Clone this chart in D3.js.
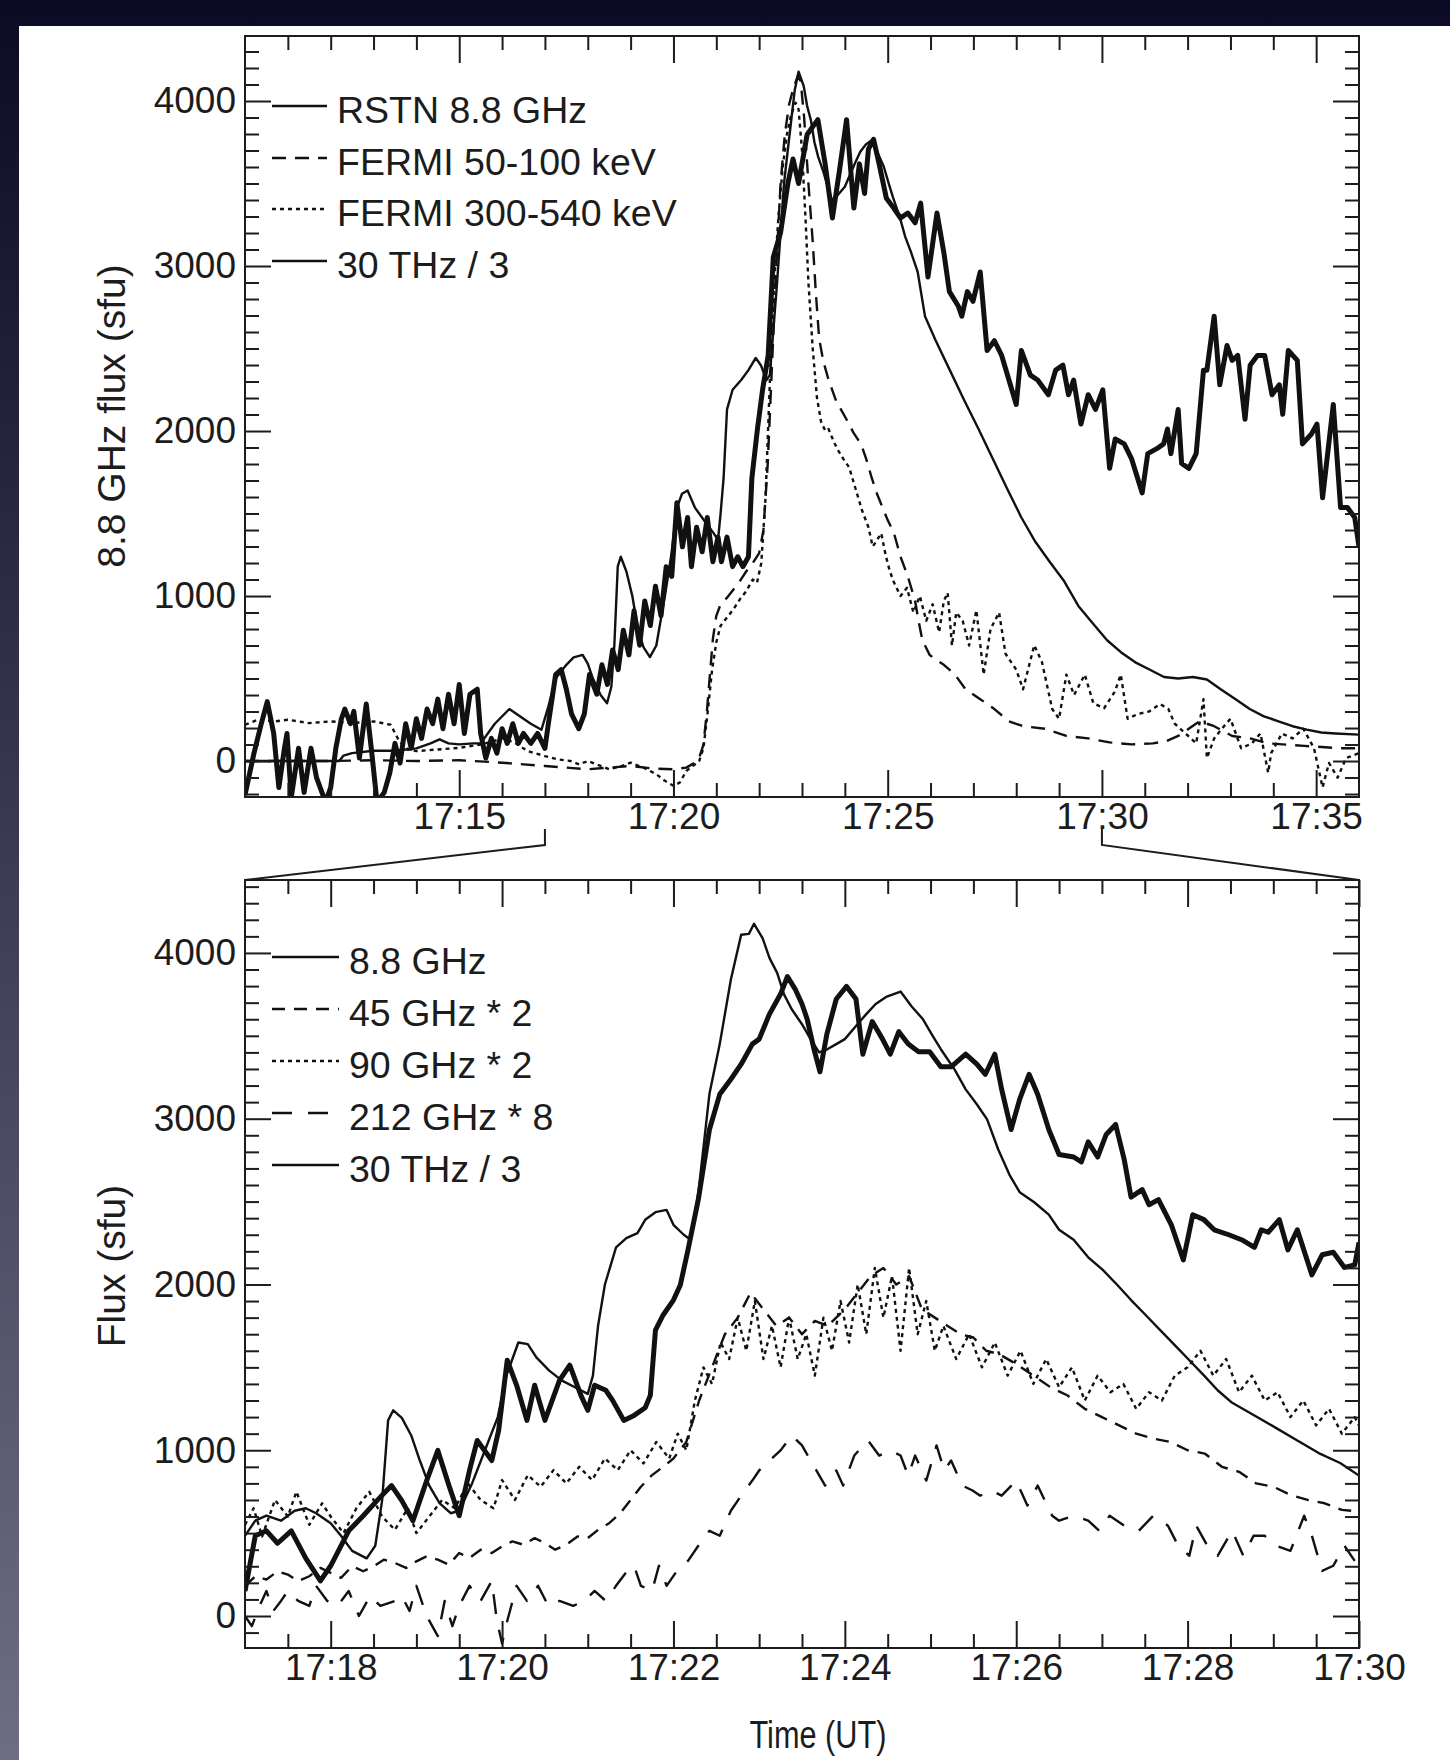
<!DOCTYPE html>
<html lang="en">
<head>
<meta charset="utf-8">
<title>Flare time profiles</title>
<script src="https://cdn.jsdelivr.net/npm/d3@7"></script>
<style>
  body { margin: 0; }
  svg text { font-family: "Liberation Sans", Arial, sans-serif; fill: #1c1c1c; }
  .axis path { display: none; }
  .axis line { stroke: #1c1c1c; stroke-width: 2px; }
  .axis text { font-size: 37px; }
  .legend text { font-size: 37.5px; }
</style>
</head>
<body>
<script>
var W = 1450, H = 1760;

// ---- data: [minutes after 17:00, flux in sfu] ----
var rstnTop = [[10.0,0],[12.2,0],[12.3,33],[12.5,48],[13.0,62],[13.5,62],[14.0,77],[14.33,107],[14.54,131],[14.75,107],[15.0,101],[15.33,107],[15.5,107],[15.83,226],[16.17,315],[16.5,256],[16.67,226],[16.92,190],[17.08,330],[17.25,500],[17.5,583],[17.67,628],[17.88,643],[18.0,590],[18.12,500],[18.3,400],[18.45,350],[18.55,450],[18.62,700],[18.7,1180],[18.77,1238],[18.9,1150],[19.04,1000],[19.17,800],[19.3,690],[19.45,630],[19.6,700],[19.8,1000],[19.95,1250],[20.08,1536],[20.2,1620],[20.33,1640],[20.5,1536],[20.75,1446],[20.92,1387],[21.04,1340],[21.1,1500],[21.17,1714],[21.25,2131],[21.38,2250],[21.58,2309],[21.75,2369],[21.92,2443],[22.04,2399],[22.17,2309],[22.25,2339],[22.33,2607],[22.42,2905],[22.5,3202],[22.58,3500],[22.71,3797],[22.83,4065],[22.92,4178],[23.04,4090],[23.12,3970],[23.21,3880],[23.29,3750],[23.38,3660],[23.5,3570],[23.6,3480],[23.7,3400],[23.8,3420],[23.9,3450],[24.0,3480],[24.15,3571],[24.25,3631],[24.36,3692],[24.49,3737],[24.65,3767],[24.78,3677],[24.91,3601],[25.03,3495],[25.12,3419],[25.28,3298],[25.41,3177],[25.54,3087],[25.7,2964],[25.87,2696],[26.12,2548],[26.45,2369],[26.78,2190],[27.12,2012],[27.45,1833],[27.78,1655],[28.12,1476],[28.45,1327],[28.78,1208],[29.12,1089],[29.45,940],[29.78,836],[30.12,732],[30.45,658],[30.78,598],[31.12,553],[31.45,509],[31.78,500],[32.12,509],[32.45,494],[32.78,434],[33.12,375],[33.45,315],[33.78,271],[34.12,241],[34.45,211],[34.78,190],[35.12,173],[35.45,167],[36.0,160]];

var fermiLoTop = [[10.0,0],[11,0],[12,0],[13,5],[14,0],[15,5],[16,-10],[16.5,-20],[17.0,-30],[17.5,-40],[18.0,-50],[18.5,-40],[19.0,-30],[19.5,-45],[20.0,-50],[20.3,-40],[20.5,-10],[20.6,20],[20.7,100],[20.78,300],[20.85,520],[20.92,740],[21.0,880],[21.1,950],[21.25,990],[21.4,1040],[21.55,1090],[21.7,1150],[21.85,1200],[22.0,1260],[22.1,1400],[22.2,1800],[22.3,2400],[22.4,3000],[22.5,3500],[22.6,3800],[22.7,3980],[22.8,4080],[22.9,4150],[22.97,4120],[23.05,3900],[23.15,3500],[23.25,3150],[23.32,2850],[23.4,2560],[23.5,2420],[23.62,2310],[23.8,2180],[24.04,2070],[24.2,1990],[24.38,1920],[24.5,1830],[24.63,1714],[24.75,1620],[24.88,1536],[25.0,1460],[25.14,1387],[25.3,1238],[25.47,1119],[25.64,970],[25.72,850],[25.81,732],[25.98,643],[26.15,610],[26.31,583],[26.57,524],[26.82,434],[27.16,375],[27.49,315],[27.83,241],[28.16,211],[28.67,196],[29.17,152],[29.68,137],[30.18,113],[30.69,101],[31.19,107],[31.5,120],[31.78,152],[32.05,200],[32.28,241],[32.62,211],[33.04,152],[33.46,137],[33.88,107],[34.72,92],[35.57,77],[36.0,77]];

var fermiHiTop = [[10.0,220],[10.3,250],[10.7,240],[11,250],[11.5,230],[12,240],[12.5,230],[13,240],[13.4,220],[13.6,120],[13.8,70],[14.0,60],[14.5,70],[15,80],[15.5,100],[15.8,120],[16.0,140],[16.3,110],[16.6,60],[17.0,30],[17.3,10],[17.6,0],[17.8,-20],[18.0,0],[18.3,-30],[18.5,-50],[18.8,-30],[19.0,-10],[19.3,-40],[19.6,-80],[19.8,-120],[20.0,-150],[20.15,-130],[20.3,-60],[20.45,-30],[20.6,0],[20.7,80],[20.8,300],[20.9,550],[21.0,720],[21.1,820],[21.25,870],[21.4,920],[21.55,980],[21.7,1030],[21.85,1100],[21.95,1080],[22.05,1200],[22.15,1600],[22.25,2300],[22.35,2900],[22.45,3300],[22.55,3600],[22.65,3800],[22.75,3920],[22.85,3990],[22.92,3950],[23.0,3700],[23.08,3300],[23.15,2900],[23.25,2500],[23.35,2200],[23.45,2050],[23.55,2000],[23.62,2012],[23.75,1930],[23.85,1880],[23.96,1833],[24.1,1780],[24.25,1650],[24.4,1520],[24.55,1417],[24.65,1300],[24.72,1327],[24.85,1380],[24.95,1250],[25.05,1150],[25.15,1080],[25.3,1000],[25.45,1050],[25.6,900],[25.75,1000],[25.9,850],[26.05,950],[26.2,780],[26.31,970],[26.4,1020],[26.5,700],[26.6,900],[26.75,850],[26.9,700],[27.07,914],[27.24,524],[27.4,800],[27.6,900],[27.75,650],[28.0,554],[28.16,435],[28.42,702],[28.6,600],[28.84,315],[29.0,256],[29.17,524],[29.35,400],[29.6,524],[29.8,350],[30.05,320],[30.3,420],[30.44,524],[30.6,256],[30.85,286],[31.1,300],[31.36,345],[31.55,315],[31.7,226],[31.95,167],[32.2,107],[32.37,375],[32.45,18],[32.62,137],[32.8,196],[33.0,256],[33.25,77],[33.5,107],[33.7,167],[33.88,-71],[33.95,48],[34.2,167],[34.45,137],[34.7,196],[34.95,77],[35.15,-160],[35.3,-12],[35.5,-101],[35.7,18],[36.0,48]];

var thzTop = [[10.0,-205],[10.21,48],[10.38,226],[10.52,360],[10.67,167],[10.79,-161],[10.92,77],[10.98,167],[11.08,-220],[11.25,77],[11.38,-190],[11.54,77],[11.67,-101],[11.88,-250],[12.0,-161],[12.12,77],[12.25,256],[12.33,315],[12.46,226],[12.54,301],[12.67,18],[12.83,345],[12.96,48],[13.08,-250],[13.25,-190],[13.38,-71],[13.5,107],[13.62,-12],[13.75,226],[13.88,77],[14.0,256],[14.12,137],[14.25,315],[14.38,226],[14.5,375],[14.62,196],[14.75,405],[14.88,226],[15.0,464],[15.12,167],[15.25,405],[15.42,435],[15.5,167],[15.62,18],[15.75,137],[15.88,48],[16.0,196],[16.12,107],[16.25,226],[16.38,107],[16.5,167],[16.67,107],[16.83,167],[17.0,77],[17.08,226],[17.25,524],[17.38,554],[17.5,435],[17.62,286],[17.79,196],[17.92,286],[18.04,524],[18.21,405],[18.33,583],[18.46,464],[18.58,673],[18.71,554],[18.83,792],[18.96,643],[19.08,911],[19.21,702],[19.33,970],[19.46,821],[19.58,1059],[19.71,881],[19.83,1178],[19.96,1119],[20.08,1565],[20.21,1298],[20.33,1476],[20.42,1178],[20.54,1417],[20.67,1268],[20.79,1476],[20.92,1208],[21.04,1357],[21.12,1208],[21.25,1357],[21.38,1178],[21.5,1238],[21.62,1178],[21.75,1238],[21.83,1714],[21.96,2012],[22.08,2250],[22.21,2458],[22.33,3053],[22.5,3202],[22.67,3500],[22.79,3649],[22.92,3500],[23.12,3797],[23.37,3887],[23.54,3619],[23.71,3291],[23.88,3589],[24.04,3887],[24.21,3351],[24.34,3619],[24.46,3440],[24.55,3708],[24.67,3768],[24.8,3619],[24.97,3410],[25.14,3351],[25.3,3291],[25.47,3321],[25.64,3262],[25.77,3381],[25.94,2934],[26.15,3321],[26.31,3083],[26.44,2845],[26.65,2756],[26.73,2696],[26.86,2845],[26.99,2786],[27.16,2964],[27.32,2488],[27.49,2547],[27.66,2458],[27.83,2309],[28.0,2161],[28.12,2488],[28.33,2339],[28.5,2309],[28.75,2220],[28.92,2369],[29.09,2399],[29.22,2220],[29.34,2309],[29.51,2042],[29.68,2220],[29.85,2131],[30.02,2250],[30.18,1774],[30.31,1952],[30.52,1922],[30.69,1833],[30.94,1625],[31.07,1863],[31.28,1893],[31.44,1922],[31.53,2012],[31.61,1863],[31.78,2131],[31.86,1803],[32.03,1774],[32.2,1863],[32.37,2369],[32.45,2369],[32.62,2696],[32.75,2280],[32.92,2518],[33.04,2428],[33.17,2458],[33.34,2071],[33.46,2399],[33.63,2458],[33.8,2458],[33.97,2220],[34.14,2280],[34.22,2101],[34.35,2488],[34.56,2428],[34.68,1922],[34.89,1982],[35.02,2042],[35.15,1595],[35.4,2161],[35.57,1536],[35.73,1536],[35.9,1476],[36.0,1298]];

var ghz88 = [[17.0,484],[17.12,575],[17.25,605],[17.42,575],[17.58,635],[17.71,650],[17.83,620],[18.0,560],[18.12,484],[18.25,393],[18.42,348],[18.52,424],[18.6,696],[18.67,1180],[18.73,1241],[18.83,1195],[18.94,1089],[19.04,938],[19.15,787],[19.27,681],[19.4,620],[19.5,635],[19.65,800],[19.8,1000],[19.95,1200],[20.05,1450],[20.19,1650],[20.3,1640],[20.4,1560],[20.55,1480],[20.7,1420],[20.85,1380],[21.0,1340],[21.06,1450],[21.12,1750],[21.2,2000],[21.33,2224],[21.45,2280],[21.58,2310],[21.67,2390],[21.79,2436],[21.92,2450],[22.0,2360],[22.12,2300],[22.2,2270],[22.29,2550],[22.42,3150],[22.54,3450],[22.67,3840],[22.79,4110],[22.88,4115],[22.94,4176],[23.04,4090],[23.12,3970],[23.21,3880],[23.29,3750],[23.38,3660],[23.5,3570],[23.6,3480],[23.7,3400],[23.8,3420],[23.9,3450],[24.0,3480],[24.15,3571],[24.25,3631],[24.36,3692],[24.49,3737],[24.65,3767],[24.78,3677],[24.91,3601],[25.03,3495],[25.12,3419],[25.28,3298],[25.41,3177],[25.54,3087],[25.66,2996],[25.79,2814],[25.92,2663],[26.04,2557],[26.21,2496],[26.38,2421],[26.5,2330],[26.67,2270],[26.84,2164],[27.01,2088],[27.18,1997],[27.34,1906],[27.51,1816],[27.68,1725],[27.85,1634],[28.02,1543],[28.19,1452],[28.35,1362],[28.52,1286],[28.78,1210],[29.03,1135],[29.28,1059],[29.53,983],[29.78,923],[30.0,847]];

var ghz45 = [[17.0,180],[17.12,240],[17.25,220],[17.38,270],[17.5,250],[17.62,210],[17.75,240],[17.88,290],[18.0,260],[18.12,230],[18.25,300],[18.38,270],[18.5,300],[18.62,340],[18.75,320],[18.88,290],[19.0,330],[19.12,360],[19.25,340],[19.38,310],[19.5,380],[19.62,350],[19.75,400],[19.88,380],[20.0,420],[20.12,450],[20.25,430],[20.38,470],[20.5,440],[20.62,400],[20.75,430],[20.88,480],[21.0,470],[21.12,520],[21.25,560],[21.38,620],[21.5,700],[21.62,780],[21.75,850],[21.88,900],[22.0,950],[22.15,1050],[22.3,1300],[22.45,1500],[22.6,1700],[22.75,1800],[22.9,1950],[23.05,1850],[23.2,1750],[23.35,1800],[23.5,1700],[23.65,1780],[23.8,1750],[24.0,1850],[24.15,1950],[24.3,2050],[24.45,2100],[24.6,2000],[24.75,2050],[24.9,1850],[25.05,1800],[25.2,1750],[25.35,1700],[25.5,1680],[25.65,1600],[25.8,1580],[26.0,1520],[26.2,1450],[26.4,1380],[26.6,1330],[26.8,1250],[27.0,1200],[27.2,1150],[27.4,1100],[27.6,1070],[27.8,1050],[28.0,1000],[28.2,980],[28.4,900],[28.6,870],[28.8,800],[29.0,780],[29.2,730],[29.4,700],[29.6,680],[29.8,640],[30.0,630]];

var ghz90 = [[17.0,550],[17.1,650],[17.2,480],[17.35,700],[17.5,600],[17.6,750],[17.75,550],[17.9,680],[18.0,600],[18.15,500],[18.3,650],[18.45,750],[18.6,600],[18.75,520],[18.9,650],[19.0,500],[19.15,600],[19.3,700],[19.45,650],[19.6,800],[19.75,700],[19.9,650],[20.0,820],[20.15,700],[20.3,850],[20.45,780],[20.6,880],[20.75,800],[20.9,900],[21.05,820],[21.2,950],[21.35,880],[21.5,1000],[21.65,920],[21.8,1050],[21.95,950],[22.05,1100],[22.15,1000],[22.25,1300],[22.35,1500],[22.45,1400],[22.55,1650],[22.65,1550],[22.75,1800],[22.85,1600],[22.95,1900],[23.05,1550],[23.15,1750],[23.25,1500],[23.35,1800],[23.45,1550],[23.55,1700],[23.65,1450],[23.75,1800],[23.85,1600],[23.95,1900],[24.05,1650],[24.15,2000],[24.25,1700],[24.35,2100],[24.45,1800],[24.55,2050],[24.65,1600],[24.75,2100],[24.85,1700],[24.95,1900],[25.05,1600],[25.15,1750],[25.3,1550],[25.45,1700],[25.6,1500],[25.75,1650],[25.9,1450],[26.05,1600],[26.2,1400],[26.35,1550],[26.5,1380],[26.65,1500],[26.8,1300],[26.95,1450],[27.1,1350],[27.25,1400],[27.4,1250],[27.55,1350],[27.7,1300],[27.85,1450],[28.0,1500],[28.15,1600],[28.3,1450],[28.45,1550],[28.6,1350],[28.75,1450],[28.9,1300],[29.05,1350],[29.2,1200],[29.35,1300],[29.5,1150],[29.65,1250],[29.8,1100],[29.95,1200],[30.0,1150]];

var ghz212 = [[17.0,0],[17.08,-61],[17.17,61],[17.25,151],[17.33,30],[17.42,91],[17.5,151],[17.62,91],[17.75,61],[17.83,182],[17.96,91],[18.08,61],[18.21,151],[18.33,0],[18.46,121],[18.58,61],[18.75,91],[18.83,121],[18.92,30],[19.0,182],[19.12,0],[19.25,-121],[19.33,91],[19.42,-61],[19.5,61],[19.62,182],[19.75,91],[19.88,212],[19.94,-30],[20.0,-166],[20.06,-30],[20.17,182],[20.29,91],[20.42,182],[20.54,61],[20.67,91],[20.83,61],[20.96,91],[21.08,151],[21.21,91],[21.33,182],[21.46,272],[21.54,303],[21.62,182],[21.75,151],[21.83,303],[21.92,182],[22.04,272],[22.17,333],[22.29,424],[22.42,514],[22.54,484],[22.67,635],[22.79,726],[22.92,817],[23.0,878],[23.12,938],[23.25,999],[23.38,1089],[23.5,1029],[23.6,938],[23.77,787],[23.9,878],[23.98,787],[24.11,968],[24.27,1059],[24.4,968],[24.53,999],[24.65,968],[24.74,847],[24.82,968],[24.95,817],[25.07,1029],[25.16,878],[25.24,938],[25.37,787],[25.49,757],[25.58,726],[25.71,757],[25.83,726],[26.0,817],[26.13,666],[26.25,787],[26.42,605],[26.5,575],[26.67,605],[26.84,575],[26.97,514],[27.09,605],[27.26,545],[27.43,514],[27.6,605],[27.77,545],[27.89,424],[28.02,363],[28.1,545],[28.23,424],[28.35,363],[28.52,514],[28.65,363],[28.77,484],[28.9,484],[29.03,424],[29.2,393],[29.36,605],[29.45,484],[29.57,272],[29.7,303],[29.83,424],[29.95,333]];

var thzBottom = [[17.0,151],[17.12,484],[17.25,514],[17.38,439],[17.54,514],[17.71,348],[17.88,212],[18.0,303],[18.21,514],[18.38,605],[18.54,696],[18.71,787],[18.83,696],[18.96,575],[19.12,817],[19.25,999],[19.38,787],[19.5,605],[19.62,878],[19.71,1059],[19.88,938],[19.96,1120],[20.06,1543],[20.17,1392],[20.29,1180],[20.38,1392],[20.5,1180],[20.67,1422],[20.79,1513],[20.92,1331],[21.0,1241],[21.08,1392],[21.21,1362],[21.29,1301],[21.42,1180],[21.54,1210],[21.67,1256],[21.73,1331],[21.79,1725],[21.88,1816],[22.0,1906],[22.08,1997],[22.17,2209],[22.29,2512],[22.42,2935],[22.54,3147],[22.67,3238],[22.79,3329],[22.92,3450],[23.0,3480],[23.12,3631],[23.25,3752],[23.33,3858],[23.42,3782],[23.5,3692],[23.56,3601],[23.64,3419],[23.71,3283],[23.79,3510],[23.9,3722],[24.02,3798],[24.13,3722],[24.21,3389],[24.32,3586],[24.44,3480],[24.53,3389],[24.63,3525],[24.74,3450],[24.86,3404],[24.99,3404],[25.12,3313],[25.24,3313],[25.41,3389],[25.54,3329],[25.64,3268],[25.75,3389],[25.83,3177],[25.94,2935],[26.04,3117],[26.15,3268],[26.25,3147],[26.38,2935],[26.5,2784],[26.67,2769],[26.76,2739],[26.84,2860],[26.95,2769],[27.05,2905],[27.16,2965],[27.26,2754],[27.34,2527],[27.47,2572],[27.55,2481],[27.66,2512],[27.81,2360],[27.95,2148],[28.06,2421],[28.19,2391],[28.31,2330],[28.48,2300],[28.63,2270],[28.78,2224],[28.86,2330],[28.94,2315],[29.07,2391],[29.17,2209],[29.28,2330],[29.45,2058],[29.57,2179],[29.7,2194],[29.83,2103],[29.95,2118],[30.0,2254]];

var topLabels = ["RSTN 8.8 GHz", "FERMI 50-100 keV", "FERMI 300-540 keV", "30 THz / 3"];
var bottomLabels = ["8.8 GHz", "45 GHz * 2", "90 GHz * 2", "212 GHz * 8", "30 THz / 3"];
var fluxTicks = [0, 1000, 2000, 3000, 4000];
var topTimeTicks = [15, 20, 25, 30, 35];
var bottomTimeTicks = [18, 20, 22, 24, 26, 28, 30];

// ---- page ----
var svg = d3.select("body").append("svg").attr("width", W).attr("height", H);
var defs = svg.append("defs");
var grad = defs.append("linearGradient").attr("id", "bg")
  .attr("x1", 0).attr("y1", 0).attr("x2", 0).attr("y2", 1);
grad.append("stop").attr("offset", "0%").attr("stop-color", "#0b0b26");
grad.append("stop").attr("offset", "100%").attr("stop-color", "#6f6d83");
svg.append("rect").attr("width", W).attr("height", H).attr("fill", "url(#bg)");
svg.append("rect").attr("x", 19).attr("y", 26).attr("width", W - 19).attr("height", H - 26).attr("fill", "#fff");

var timeFmt = function (m) { return "17:" + d3.format("02")(m); };

function drawPanel(p) {
  var x = p.x, y = p.y;
  var xl = x.range()[0], xr = x.range()[1], yb = y.range()[0], yt = y.range()[1];
  var g = svg.append("g");

  defs.append("clipPath").attr("id", "clip" + p.id).append("rect")
    .attr("x", xl).attr("y", yt).attr("width", xr - xl).attr("height", yb - yt);

  var line = d3.line().x(function (d) { return x(d[0]); }).y(function (d) { return y(d[1]); });

  g.append("g").attr("clip-path", "url(#clip" + p.id + ")")
    .selectAll("path").data(p.series).enter().append("path")
    .attr("d", function (s) { return line(s.data); })
    .attr("fill", "none")
    .attr("stroke", "#111")
    .attr("stroke-width", function (s) { return s.width; })
    .attr("stroke-dasharray", function (s) { return s.dash; })
    .attr("stroke-linejoin", "round");

  // tick marks on all four sides, pointing inward
  function ticks(axis, tr, vals, len, fmt, pad) {
    g.append("g").attr("class", "axis").attr("transform", tr)
      .call(axis.tickValues(vals).tickSizeInner(-len).tickSizeOuter(0)
        .tickPadding(pad || 0).tickFormat(fmt || ""));
  }
  ticks(d3.axisBottom(x), "translate(0," + yb + ")", p.xMinor, 14);
  ticks(d3.axisBottom(x), "translate(0," + yb + ")", p.xMajor, 27, timeFmt, 6);
  ticks(d3.axisTop(x), "translate(0," + yt + ")", p.xMinor, 14);
  ticks(d3.axisTop(x), "translate(0," + yt + ")", p.xMajor, 27);
  ticks(d3.axisLeft(y), "translate(" + xl + ",0)", p.yMinor, 14);
  ticks(d3.axisLeft(y), "translate(" + xl + ",0)", fluxTicks, 26, d3.format("d"), 9);
  ticks(d3.axisRight(y), "translate(" + xr + ",0)", p.yMinor, 14);
  ticks(d3.axisRight(y), "translate(" + xr + ",0)", fluxTicks, 26);

  g.append("rect").attr("x", xl).attr("y", yt).attr("width", xr - xl).attr("height", yb - yt)
    .attr("fill", "none").attr("stroke", "#1c1c1c").attr("stroke-width", 2);

  // y title
  g.append("text").attr("transform", "translate(125," + p.titleY + ") rotate(-90)")
    .attr("text-anchor", "middle").style("font-size", "39px").text(p.title);

  // legend
  var leg = g.append("g").attr("class", "legend");
  var items = leg.selectAll("g").data(p.legend).enter().append("g")
    .attr("transform", function (d, i) { return "translate(0," + p.legendY[i] + ")"; });
  items.append("line").attr("x1", 272).attr("x2", p.legendX - 10)
    .attr("stroke", "#111").attr("stroke-width", 2.5)
    .attr("stroke-dasharray", function (d, i) { return p.series[i].dash; });
  items.append("text").attr("x", p.legendX).attr("y", 17).text(function (d) { return d; });
}

var xTop = d3.scaleLinear().domain([10, 36]).range([245, 1359]);
var yTop = d3.scaleLinear().domain([-218, 4394]).range([797, 36]);
var xBot = d3.scaleLinear().domain([17, 30]).range([245, 1359]);
var yBot = d3.scaleLinear().domain([-193, 4440]).range([1648, 880]);

drawPanel({
  id: "top", x: xTop, y: yTop,
  xMinor: d3.range(11, 36).filter(function (m) { return m % 5 !== 0; }),
  xMajor: topTimeTicks,
  yMinor: d3.range(-200, 4400, 100).filter(function (v) { return v % 1000 !== 0; }),
  title: "8.8 GHz flux (sfu)", titleY: 416,
  legend: topLabels, legendX: 337, legendY: [106, 158, 209, 261],
  series: [
    { data: rstnTop, width: 2.4, dash: null },
    { data: fermiLoTop, width: 2.4, dash: "14,9" },
    { data: fermiHiTop, width: 2.4, dash: "4,4" },
    { data: thzTop, width: 5, dash: null }
  ]
});

drawPanel({
  id: "bot", x: xBot, y: yBot,
  xMinor: d3.range(17.5, 30, 0.5).filter(function (m) { return m % 2 !== 0; }),
  xMajor: bottomTimeTicks,
  yMinor: d3.range(-100, 4500, 100).filter(function (v) { return v % 1000 !== 0; }),
  title: "Flux (sfu)", titleY: 1266,
  legend: bottomLabels, legendX: 349, legendY: [957, 1009, 1061, 1113, 1165],
  series: [
    { data: ghz88, width: 2.4, dash: null },
    { data: ghz45, width: 2.4, dash: "13,9" },
    { data: ghz90, width: 2.4, dash: "4,4" },
    { data: ghz212, width: 2.4, dash: "20,16" },
    { data: thzBottom, width: 5, dash: null }
  ]
});

// zoom connectors from the upper time axis to the lower panel corners
var conn = d3.line();
svg.append("path").attr("fill", "none").attr("stroke", "#1c1c1c").attr("stroke-width", 2)
  .attr("d", conn([[xTop(17), 829], [xTop(17), 845], [xBot.range()[0], yBot.range()[1]]]));
svg.append("path").attr("fill", "none").attr("stroke", "#1c1c1c").attr("stroke-width", 2)
  .attr("d", conn([[xTop(30), 829], [xTop(30), 845], [xBot.range()[1], yBot.range()[1]]]));

svg.append("text").attr("x", 818).attr("y", 1748).attr("text-anchor", "middle")
  .attr("textLength", 137).attr("lengthAdjust", "spacingAndGlyphs")
  .style("font-size", "38px").text("Time (UT)");
</script>
</body>
</html>
